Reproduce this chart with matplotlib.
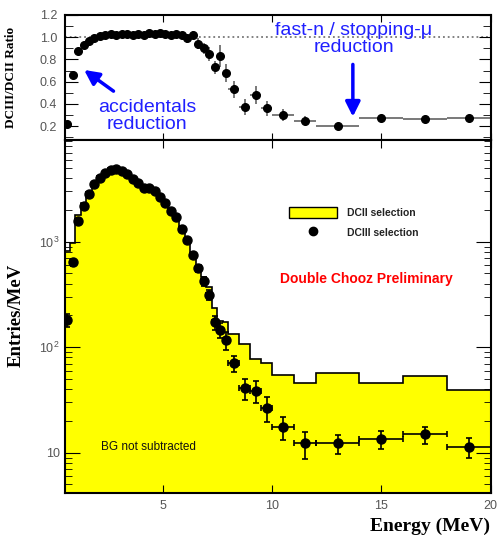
import numpy as np
import matplotlib
matplotlib.use("Agg")
import matplotlib.pyplot as plt
from matplotlib.ticker import FormatStrFormatter, MultipleLocator, NullLocator, NullFormatter
from matplotlib.lines import Line2D
from matplotlib.patches import Patch

# bin edges in MeV (0.25 up to 8, then wider bins)
edges = [0.5, 0.75, 1.0, 1.25, 1.5, 1.75, 2.0, 2.25, 2.5, 2.75, 3.0,
         3.25, 3.5, 3.75, 4.0, 4.25, 4.5, 4.75, 5.0, 5.25, 5.5,
         5.75, 6.0, 6.25, 6.5, 6.75, 7.0, 7.25, 7.5, 7.75, 8.0,
         8.5, 9.0, 9.5, 10.0, 11.0, 12.0, 14.0, 16.0, 18.0, 20.0]

# DCIII selection, entries/MeV (points)
dc3 = [181, 640, 1570, 2190, 2830, 3500, 4050, 4500, 4800, 4880,
       4700, 4400, 3950, 3600, 3200, 3250, 3050, 2650, 2350, 1950,
       1700, 1330, 1030, 750, 560, 420, 315, 172, 146, 117,
       70.3, 40.8, 38.7, 26.7, 17.5, 12.3, 12.3, 13.4, 14.9, 11.4]
dc3_err = [27, 51, 79, 94, 106, 118, 127, 134, 139, 140,
           137, 133, 126, 120, 113, 114, 110, 103, 97, 88,
           82, 73, 64, 55, 47, 41, 35, 26, 24, 22,
           11.9, 9.0, 8.8, 7.3, 4.2, 3.5, 2.5, 2.6, 2.7, 2.4]

# DCII selection, entries/MeV (yellow histogram)
dc2 = [823, 970, 1780, 2350, 2920, 3540, 4010, 4410, 4660, 4780,
       4560, 4270, 3870, 3500, 3140, 3130, 2960, 2550, 2280, 1910,
       1650, 1300, 1040, 735, 596, 467, 370, 236, 176, 172,
       133, 107, 78, 71, 54.5, 45.5, 56.6, 45.5, 53.3, 39.3]

# DCIII/DCII ratio
ratio = [0.22, 0.66, 0.88, 0.93, 0.97, 0.99, 1.01, 1.02, 1.03, 1.02,
         1.03, 1.03, 1.02, 1.03, 1.02, 1.04, 1.03, 1.04, 1.03, 1.02,
         1.03, 1.02, 0.99, 1.02, 0.94, 0.90, 0.85, 0.73, 0.83, 0.68,
         0.53, 0.37, 0.48, 0.36, 0.30, 0.25, 0.20, 0.27, 0.26, 0.27]
ratio_err = [0.03, 0.03, 0.02, 0.02, 0.02, 0.02, 0.02, 0.02, 0.02, 0.02,
             0.02, 0.02, 0.02, 0.02, 0.02, 0.02, 0.02, 0.02, 0.03, 0.03,
             0.03, 0.03, 0.04, 0.04, 0.05, 0.05, 0.06, 0.06, 0.10, 0.08,
             0.08, 0.07, 0.08, 0.07, 0.05, 0.04, 0.02, 0.025, 0.025, 0.025]

edges = np.array(edges)
centers = 0.5 * (edges[1:] + edges[:-1])
half = 0.5 * np.diff(edges)

plt.rcParams['font.family'] = ['Liberation Sans', 'DejaVu Sans']
plt.rcParams['mathtext.fontset'] = 'custom'
plt.rcParams['mathtext.rm'] = 'Liberation Sans'
plt.rcParams['mathtext.it'] = 'Liberation Sans'

tick_col = '#555555'
blue = '#2020ff'

fig = plt.figure(figsize=(4.98, 5.35), dpi=100)
ax_r = fig.add_axes([0.1315, 0.7383, 0.8535, 0.2337])
ax = fig.add_axes([0.1315, 0.0785, 0.8535, 0.6598])

# ---- ratio panel
ax_r.axhline(1.0, color='#777777', ls=':', lw=1.3, zorder=0)
ax_r.errorbar(centers, ratio, yerr=ratio_err, xerr=half, fmt='o', color='black',
              ms=5.5, ecolor='#555555', elinewidth=1.1, capsize=0)
ax_r.set_xlim(0.55, 20)
ax_r.set_ylim(0.075, 1.2)
ax_r.set_xticks([5, 10, 15, 20])
ax_r.xaxis.set_minor_locator(NullLocator())
ax_r.yaxis.set_major_locator(MultipleLocator(0.2))
ax_r.yaxis.set_minor_locator(MultipleLocator(0.1))
ax_r.yaxis.set_major_formatter(FormatStrFormatter('%.1f'))
ax_r.tick_params(which='both', direction='in', top=True, right=True,
                 labelbottom=False, labelsize=9, labelcolor=tick_col)
ax_r.tick_params(axis='y', which='major', length=9, pad=6)
ax_r.tick_params(axis='y', which='minor', length=6)
ax_r.tick_params(axis='x', which='major', length=5)
ax_r.set_ylabel('DCIII/DCII Ratio', family='Liberation Serif', weight='bold', fontsize=9.5)
ax_r.yaxis.set_label_coords(-0.115, 0.5)

ax_r.annotate('', xy=(1.3, 0.72), xytext=(2.85, 0.5),
              arrowprops=dict(arrowstyle='-|>', lw=2.5, mutation_scale=22, color='blue'))
ax_r.text(4.27, 0.29, 'accidentals\nreduction', ha='center', va='center',
          fontsize=14, color=blue, linespacing=1.05)
ax_r.annotate('', xy=(13.7, 0.26), xytext=(13.7, 0.78),
              arrowprops=dict(arrowstyle='-|>', lw=2.5, mutation_scale=22, color='blue'))
ax_r.text(13.75, 0.985, 'fast-n / stopping-\u03bc\nreduction', ha='center', va='center',
          fontsize=14, color=blue, linespacing=1.05)

# ---- main panel
ax.stairs(dc2, edges, fill=True, color='#ffff00', baseline=1)
ax.stairs(dc2, edges, color='black', lw=1.2, baseline=None)
ax.errorbar(centers, dc3, yerr=dc3_err, xerr=half, fmt='o', color='black',
            ms=6.5, elinewidth=1.2, capsize=2, capthick=1.2)
ax.set_yscale('log')
ax.set_xlim(0.55, 20)
ax.set_ylim(4.15, 9200)
ax.set_xticks([5, 10, 15, 20])
ax.xaxis.set_minor_locator(NullLocator())
ax.set_yticks([10, 100, 1000], ['10', '$10^{2}$', '$10^{3}$'])
ax.yaxis.set_minor_formatter(NullFormatter())
ax.tick_params(which='both', direction='in', top=True, right=True,
               labelsize=9, labelcolor=tick_col)
ax.tick_params(axis='y', which='major', length=11, pad=4)
ax.tick_params(axis='y', which='minor', length=5)
ax.tick_params(axis='x', which='major', length=6, pad=5)

for a in (ax, ax_r):
    for s in a.spines.values():
        s.set_linewidth(1.5)

leg = ax.legend([Patch(facecolor='#ffff00', edgecolor='black', lw=1),
                 Line2D([], [], marker='o', ls='none', color='black', ms=6)],
                ['DCII selection', 'DCIII selection'],
                loc='upper left', bbox_to_anchor=(0.525, 0.81), frameon=False,
                prop={'size': 7.5, 'weight': 'bold'}, handlelength=4.6, handleheight=1.3,
                handletextpad=1.0, labelspacing=0.8, borderaxespad=0, borderpad=0)
for t in leg.get_texts():
    t.set_color('#222222')

ax.text(0.707, 0.606, 'Double Chooz Preliminary', transform=ax.transAxes,
        ha='center', va='center', color='#ff0000', fontsize=10, weight='bold')
ax.text(0.196, 0.13, 'BG not subtracted', transform=ax.transAxes,
        ha='center', va='center', color='#111111', fontsize=8.5)

fig.text(0.984, 0.008, 'Energy (MeV)', ha='right', va='baseline',
         family='Liberation Serif', weight='bold', fontsize=14)
fig.text(0.032, 0.411, 'Entries/MeV', ha='center', va='center', rotation=90,
         family='Liberation Serif', weight='bold', fontsize=13.5)

fig.savefig('out.png', dpi=100)
